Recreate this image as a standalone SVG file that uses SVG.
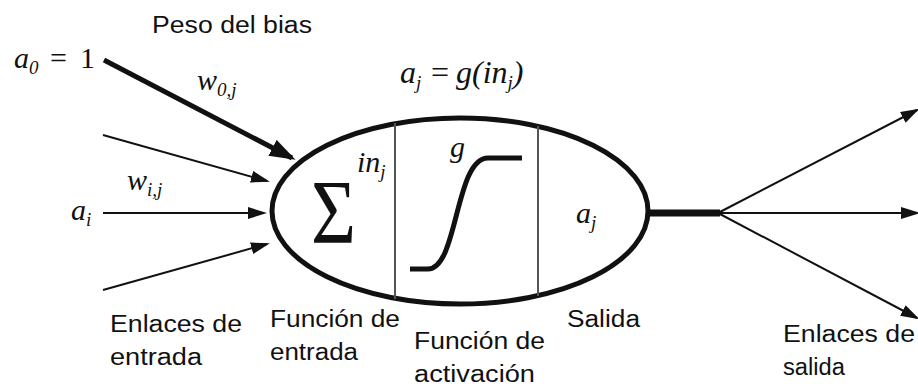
<svg xmlns="http://www.w3.org/2000/svg" width="918" height="388" viewBox="0 0 918 388">
<style>
.lbl{font-family:"Liberation Sans",Arial,sans-serif;font-size:23px;fill:#111}
.m{font-family:"Liberation Serif","Times New Roman",serif;font-style:italic;font-size:30px;fill:#111}
.mu{font-family:"Liberation Serif","Times New Roman",serif;font-style:normal;font-size:30px;fill:#111}
.sub{font-size:19px}
.thin{stroke:#111;stroke-width:2;fill:none}
</style>
<defs>
<marker id="ah" markerUnits="userSpaceOnUse" markerWidth="22" markerHeight="14" refX="16" refY="6" orient="auto">
<path d="M0,0 L19,6 L0,12 z" fill="#111"/>
</marker>
<marker id="ahb" markerUnits="userSpaceOnUse" markerWidth="30" markerHeight="20" refX="22" refY="9" orient="auto">
<path d="M0,0 L26,9 L0,18 z" fill="#111"/>
</marker>
</defs>
<g id="connectors">
<line x1="104" y1="60" x2="292" y2="158" stroke="#111" stroke-width="5" marker-end="url(#ahb)"/>
<line class="thin" x1="103" y1="135" x2="267" y2="181" marker-end="url(#ah)"/>
<line class="thin" x1="103" y1="213" x2="264" y2="213" marker-end="url(#ah)"/>
<line class="thin" x1="103" y1="290" x2="267" y2="244" marker-end="url(#ah)"/>
<line x1="648" y1="213" x2="720" y2="213" stroke="#111" stroke-width="7"/>
<line class="thin" x1="718" y1="213" x2="917" y2="110" marker-end="url(#ah)"/>
<line class="thin" x1="718" y1="213" x2="917" y2="213" marker-end="url(#ah)"/>
<line class="thin" x1="718" y1="213" x2="917" y2="318" marker-end="url(#ah)"/>
</g>
<g id="neuron">
<ellipse cx="460" cy="211" rx="188" ry="93" fill="none" stroke="#111" stroke-width="5"/>
<line x1="395" y1="123" x2="395" y2="299" stroke="#555" stroke-width="2"/>
<line x1="538" y1="126" x2="538" y2="296" stroke="#555" stroke-width="2"/>
<text class="mu" x="311" y="243" style="font-size:90px" textLength="45" lengthAdjust="spacingAndGlyphs">Σ</text>
<text class="m" x="357" y="172">in<tspan class="sub" dy="6">j</tspan></text>
<text class="m" x="450" y="157">g</text>
<path d="M410,269 L428,269 C458,269 455,158 488,158 L522,158" fill="none" stroke="#111" stroke-width="5"/>
<text class="m" x="576" y="223">a<tspan class="sub" dy="6">j</tspan></text>
</g>
<g id="title">
<text class="m" x="400" y="83" style="font-size:32px">a<tspan class="sub" dy="6">j</tspan><tspan class="mu" style="font-size:32px" x="431" dy="-6">=</tspan><tspan x="456">g(in</tspan><tspan class="sub" dy="6">j</tspan><tspan dy="-6">)</tspan></text>
</g>
<g id="bias-label">
<text class="lbl" x="152" y="33" textLength="160" lengthAdjust="spacingAndGlyphs">Peso del bias</text>
<text class="m" x="14" y="68">a<tspan class="sub" dy="6">0</tspan><tspan class="mu" x="50" dy="-6">=</tspan><tspan class="mu" x="80">1</tspan></text>
<text class="m" x="197" y="90">w<tspan class="sub" dy="6">0,j</tspan></text>
</g>
<g id="input-labels">
<text class="m" x="127" y="190">w<tspan class="sub" dy="6">i,j</tspan></text>
<text class="m" x="71" y="220">a<tspan class="sub" dy="6">i</tspan></text>
<text class="lbl" x="110" y="332" textLength="132" lengthAdjust="spacingAndGlyphs">Enlaces de</text>
<text class="lbl" x="110" y="365" textLength="92" lengthAdjust="spacingAndGlyphs">entrada</text>
</g>
<g id="input-function-label">
<text class="lbl" x="270" y="327" textLength="130" lengthAdjust="spacingAndGlyphs">Función de</text>
<text class="lbl" x="270" y="360" textLength="88" lengthAdjust="spacingAndGlyphs">entrada</text>
</g>
<g id="activation-label">
<text class="lbl" x="414" y="349" textLength="131" lengthAdjust="spacingAndGlyphs">Función de</text>
<text class="lbl" x="414" y="382" textLength="121" lengthAdjust="spacingAndGlyphs">activación</text>
</g>
<g id="output-label">
<text class="lbl" x="567" y="327" textLength="73" lengthAdjust="spacingAndGlyphs">Salida</text>
</g>
<g id="output-links-label">
<text class="lbl" x="783" y="342" textLength="132" lengthAdjust="spacingAndGlyphs">Enlaces de</text>
<text class="lbl" x="783" y="375" textLength="62" lengthAdjust="spacingAndGlyphs">salida</text>
</g>
</svg>
